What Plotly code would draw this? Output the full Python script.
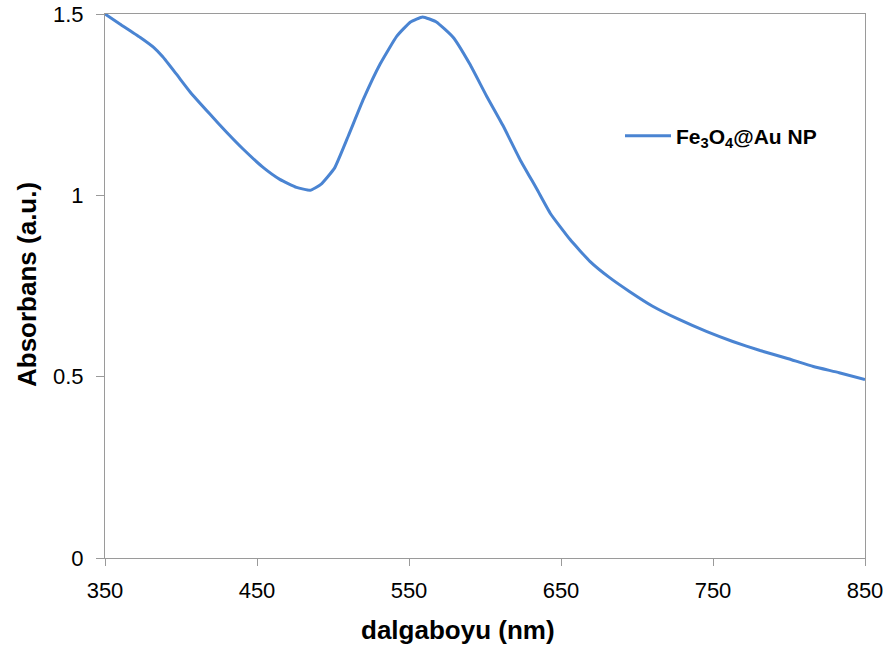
import plotly.graph_objects as go

wavelength_nm = [350, 360, 373, 382, 388, 397, 406, 419, 430, 441, 454, 465, 476, 485,
                 492, 501, 510, 520, 531, 542, 551, 559, 568, 579, 590, 601, 612, 623,
                 634, 643, 656, 669, 682, 695, 710, 728, 746, 763, 781, 799, 816, 833, 850]
absorbance = [1.500, 1.472, 1.436, 1.408, 1.382, 1.334, 1.285, 1.224, 1.174, 1.127, 1.077,
              1.044, 1.022, 1.014, 1.030, 1.075, 1.163, 1.265, 1.362, 1.439, 1.478, 1.492,
              1.478, 1.436, 1.362, 1.274, 1.191, 1.099, 1.018, 0.950, 0.878, 0.818, 0.773,
              0.735, 0.695, 0.657, 0.624, 0.597, 0.572, 0.550, 0.528, 0.511, 0.492]

series_name = "Fe<sub>3</sub>O<sub>4</sub>@Au NP"
x_title = "dalgaboyu (nm)"
y_title = "Absorbans (a.u.)"
x_ticks = [350, 450, 550, 650, 750, 850]
y_ticks = [0, 0.5, 1, 1.5]
y_tick_labels = ["0", "0.5", "1", "1.5"]

FONT = "Liberation Sans, Arial, sans-serif"
AXIS = "#9a9a9a"

fig = go.Figure()
fig.add_trace(go.Scatter(
    x=wavelength_nm, y=absorbance, mode="lines", name=series_name,
    line=dict(color="#4A84D2", width=3, shape="spline", smoothing=0.4),
))

fig.update_layout(
    width=887, height=649,
    margin=dict(l=105, r=22, t=14, b=91, autoexpand=False),
    paper_bgcolor="white", plot_bgcolor="white",
    font=dict(family=FONT, color="#000000", size=21),
    showlegend=True,
    legend=dict(x=(620 - 105) / 760, y=(558 - 136) / 544, xanchor="left", yanchor="middle",
                font=dict(family=FONT, size=21, color="#000000", weight="bold"),
                bgcolor="rgba(0,0,0,0)", itemwidth=46),
    xaxis=dict(range=[350, 850], tickvals=x_ticks, ticks="outside", ticklen=7,
               tickcolor=AXIS, showline=True, linecolor=AXIS, linewidth=1, mirror=True,
               showgrid=False, zeroline=False, ticklabelstandoff=6, automargin=False,
               ticklabeloverflow="allow",
               tickfont=dict(family=FONT, size=22, color="#000000")),
    yaxis=dict(range=[0, 1.5], tickvals=y_ticks, ticktext=y_tick_labels, ticks="outside",
               ticklen=8, tickcolor=AXIS, showline=True, linecolor=AXIS, linewidth=1,
               mirror=True, showgrid=False, zeroline=False, ticklabelstandoff=8,
               automargin=False, ticklabeloverflow="allow",
               tickfont=dict(family=FONT, size=22, color="#000000")),
    annotations=[
        dict(text=x_title, xref="paper", yref="paper", x=(458 - 105) / 760,
             y=(558 - 630) / 544, xanchor="center", yanchor="middle", showarrow=False,
             font=dict(family=FONT, size=26, color="#000000", weight="bold")),
        dict(text=y_title, xref="paper", yref="paper", x=(27 - 105) / 760,
             y=(558 - 285) / 544, xanchor="center", yanchor="middle", showarrow=False,
             textangle=-90,
             font=dict(family=FONT, size=26, color="#000000", weight="bold")),
    ],
)

# remove the page's default 8px body margin so the figure fills the window exactly
fig.write_html("out.html", config={"displayModeBar": False},
               post_script="document.body.style.margin='0';")
